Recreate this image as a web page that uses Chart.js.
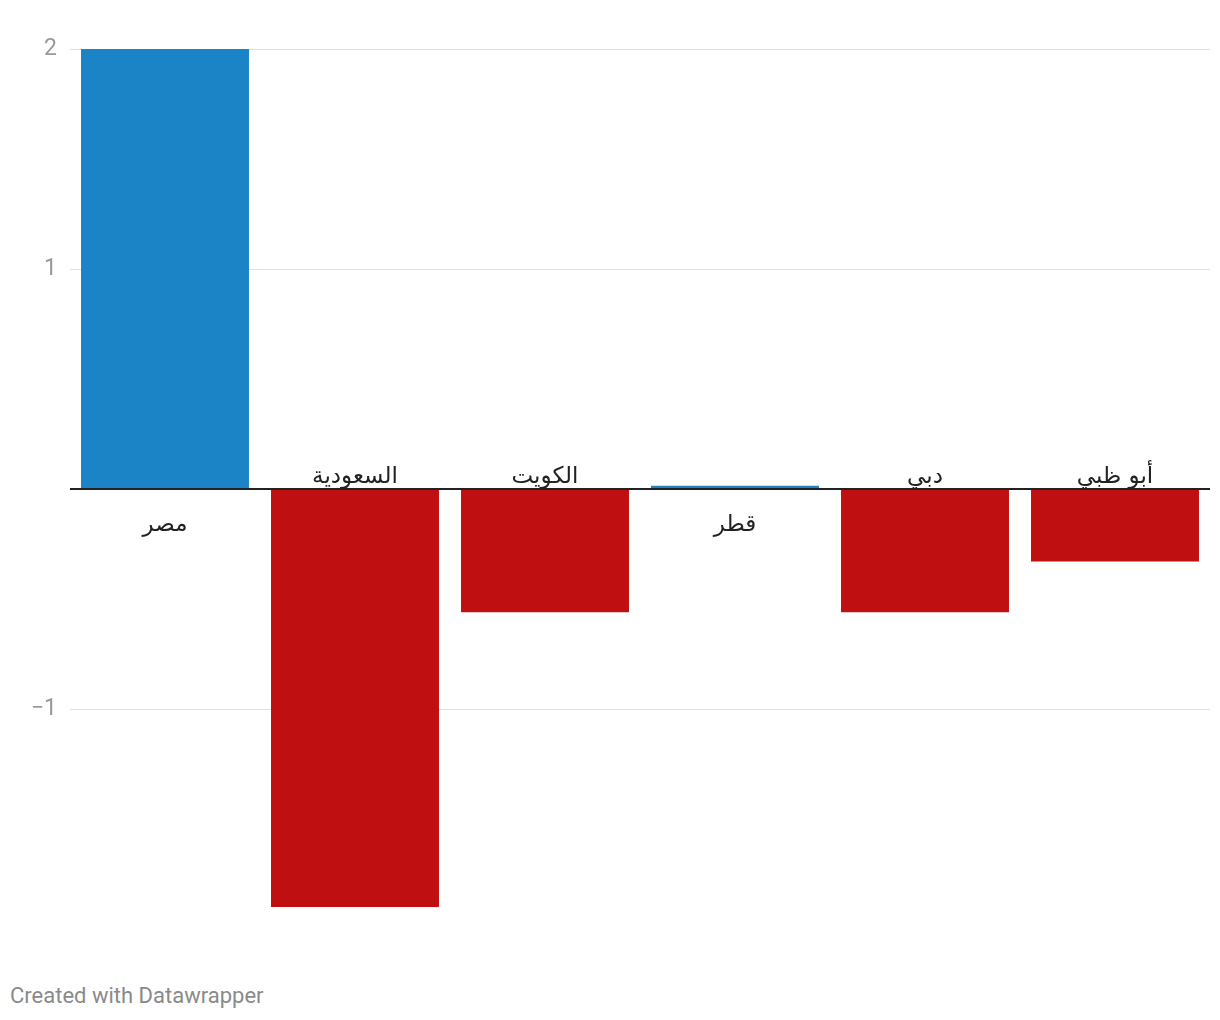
<!DOCTYPE html>
<html lang="ar">
<head>
  <meta charset="UTF-8">
  <title>Chart</title>
  <script src="https://cdn.jsdelivr.net/npm/chart.js"></script>
  <style>
    body {
      margin: 0;
      background: #fff;
      font-family: Roboto, sans-serif;
    }
    .wrap {
      position: relative;
      width: 1220px;
      height: 960px;
    }
    .footer {
      position: absolute;
      left: 10px;
      top: 983px;
      font-size: 22px;
      color: #8a8a8a;
    }
  </style>
</head>
<body>
  <div class="wrap">
    <canvas id="chart"></canvas>
  </div>
  <div class="footer">Created with Datawrapper</div>
  <script>
    // Data
    const categories = ['مصر', 'السعودية', 'الكويت', 'قطر', 'دبي', 'أبو ظبي'];
    const values = [2.0, -1.9, -0.56, 0.015, -0.56, -0.33];
    const yTicks = [2, 1, 0, -1];

    const blue = '#1a84c7';
    const red = '#c00f10';

    // Category labels sit at the zero line, on the opposite side of the bar
    const zeroLabels = {
      id: 'zeroLabels',
      afterDatasetsDraw(chart) {
        const ctx = chart.ctx;
        const x = chart.scales.x;
        const y0 = chart.scales.y.getPixelForValue(0);
        ctx.save();
        ctx.font = '23px "DejaVu Sans", sans-serif';
        ctx.fillStyle = '#222';
        ctx.textAlign = 'center';
        ctx.textBaseline = 'middle';
        categories.forEach((c, i) => {
          const px = x.getPixelForValue(i);
          const py = values[i] >= 0 ? y0 + 36 : y0 - 12;
          ctx.fillText(c, px, py);
        });
        ctx.restore();
      }
    };

    new Chart(document.getElementById('chart'), {
      type: 'bar',
      data: {
        labels: categories,
        datasets: [{
          data: values,
          backgroundColor: values.map(v => v >= 0 ? blue : red),
          categoryPercentage: 1,
          barPercentage: 0.884
        }]
      },
      options: {
        responsive: true,
        maintainAspectRatio: false,
        animation: false,
        events: [],
        layout: { padding: { top: 49, right: 10, bottom: 53, left: 0 } },
        plugins: {
          legend: { display: false },
          tooltip: { enabled: false }
        },
        scales: {
          x: { display: false },
          y: {
            min: -1.9,
            max: 2,
            border: { display: false },
            afterBuildTicks(scale) {
              scale.ticks = yTicks.map(v => ({ value: v }));
            },
            afterFit(scale) { scale.width = 70; },
            grid: {
              drawTicks: false,
              color: c => c.tick.value === 0 ? '#222' : '#e0e0e0',
              lineWidth: c => c.tick.value === 0 ? 2 : 1
            },
            ticks: {
              padding: 13,
              color: '#999',
              font: { family: 'Roboto', size: 23 },
              callback: v => v === 0 ? '' : String(v).replace('-', '\u2212')
            }
          }
        }
      },
      plugins: [zeroLabels]
    });
  </script>
</body>
</html>
